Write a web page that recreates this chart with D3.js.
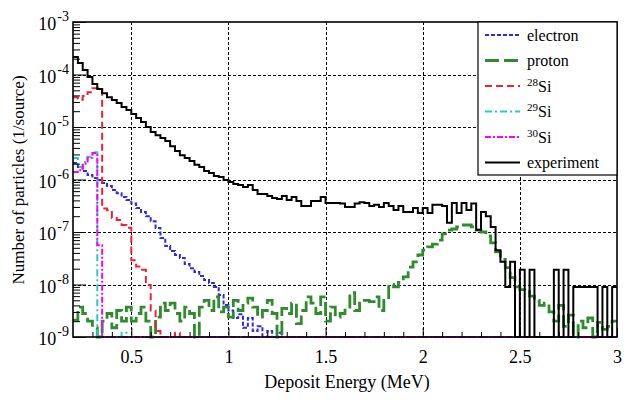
<!DOCTYPE html>
<html>
<head>
<meta charset="utf-8">
<script src="https://cdn.jsdelivr.net/npm/d3@7"></script>
<style>
body { margin: 0; background: #fff; }
svg { display: block; }
svg text { font-family: "Liberation Serif", "Times New Roman", Times, "DejaVu Serif", serif !important; fill: #000; }
</style>
</head>
<body>
<svg></svg>
<script>
// histogram binning (MeV)
var E_MIN = 0.2, E_MAX = 3.0, BIN_W = 0.025, nBins = 112;

// tick labels
var xTicks = [0.5, 1, 1.5, 2, 2.5, 3];
var xTickLabels = ["0.5", "1", "1.5", "2", "2.5", "3"];
var yTickExp = [-9, -8, -7, -6, -5, -4, -3];

// bin contents, 1/source (bins past the end of an array are empty)
var experiment = [
  2.15e-4, 1.66e-4, 1.22e-4, 9.0e-5, 6.6e-5, 5.3e-5, 4.4e-5, 3.7e-5, 3.27e-5, 2.86e-5,
  2.4e-5, 2.1e-5, 1.77e-5, 1.48e-5, 1.24e-5, 1.0e-5, 8.0e-6, 7.0e-6, 6.2e-6, 5.4e-6,
  4.3e-6, 3.5e-6, 2.9e-6, 2.57e-6, 2.25e-6, 1.9e-6, 1.73e-6, 1.45e-6, 1.33e-6, 1.17e-6,
  1.12e-6, 9.8e-7, 8.95e-7, 8.2e-7, 7.85e-7, 7.2e-7, 7.85e-7, 6.3e-7, 5.3e-7, 5.3e-7,
  4.85e-7, 4.45e-7, 4.25e-7, 4.85e-7, 4.07e-7, 4.65e-7, 3.9e-7, 3.13e-7, 3.13e-7, 3.9e-7,
  3.9e-7, 4.65e-7, 3.56e-7, 3.56e-7, 3.56e-7, 3.5e-7, 3.0e-7, 3.0e-7, 3.5e-7, 3.7e-7,
  3.56e-7, 3.13e-7, 3.3e-7, 3.0e-7, 3.56e-7, 3.13e-7, 2.63e-7, 3.13e-7, 2.4e-7, 2.4e-7,
  2.85e-7, 2.3e-7, 2.85e-7, 2.3e-7, 3.3e-7, 3.3e-7, 3.13e-7, 1.5e-7, 3.56e-7, 2.3e-7,
  3.56e-7, 2.63e-7, 3.5e-7, 1.1e-7, 2.4e-7, 2.0e-7, 1.25e-7, 4.5e-8, 2.7e-8, 9e-9,
  2.7e-8, 0, 1.9e-8, 0, 1.9e-8, 0, 0, 0, 0, 1.9e-8,
  0, 1.9e-8, 0, 9e-9, 9e-9, 9e-9, 9e-9, 9e-9, 0, 9e-9,
  0, 9e-9
];
var proton = [
  2.1e-9, 3.7e-9, 2.8e-9, 2.0e-9, 1.5e-9, 1.0e-9, 2.0e-9, 2.8e-9, 1.5e-9, 3.2e-9,
  2.0e-9, 3.7e-9, 2.0e-9, 2.8e-9, 3.7e-9, 2.0e-9, 1.0e-9, 2.4e-9, 4.4e-9, 3.2e-9,
  4.4e-9, 2.8e-9, 2.0e-9, 3.7e-9, 2.8e-9, 1.0e-9, 3.7e-9, 5.0e-9, 3.2e-9, 5.8e-9,
  3.0e-9, 3.7e-9, 2.4e-9, 5.0e-9, 3.2e-9, 4.4e-9, 5.5e-9, 3.7e-9, 2.4e-9, 3.2e-9,
  5.0e-9, 2.8e-9, 1.0e-9, 3.5e-9, 2.8e-9, 4.4e-9, 1.8e-9, 3.2e-9, 5.8e-9, 4.4e-9,
  2.8e-9, 5.8e-9, 2.0e-9, 3.7e-9, 2.4e-9, 2.8e-9, 3.7e-9, 7.0e-9, 3.2e-9, 4.4e-9,
  5.0e-9, 4.7e-9, 5.8e-9, 3.2e-9, 5.0e-9, 1.0e-8, 9.0e-9, 1.1e-8, 1.4e-8, 2.15e-8,
  2.7e-8, 3.65e-8, 4.5e-8, 5.2e-8, 5.9e-8, 7.0e-8, 9.2e-8, 1.09e-7, 1.14e-7, 1.25e-7,
  1.36e-7, 1.36e-7, 1.25e-7, 1.09e-7, 1.0e-7, 8.4e-8, 6.2e-8, 4.2e-8, 3.0e-8, 2.1e-8,
  1.35e-8, 9.0e-9, 8.0e-9, 7.3e-9, 6.0e-9, 5.0e-9, 4.0e-9, 4.4e-9, 3.0e-9, 2.0e-9,
  4.0e-9, 1.6e-9, 2.6e-9, 1.0e-9, 2.0e-9, 1.5e-9, 2.3e-9, 1.0e-9, 1.9e-9, 1.4e-9,
  1.6e-9, 2.0e-9
];
var electron = [
  2.06e-6, 1.73e-6, 1.45e-6, 1.22e-6, 1.07e-6, 9.8e-7, 8.6e-7, 7.5e-7, 6.3e-7, 5.5e-7,
  4.65e-7, 4.07e-7, 3.5e-7, 2.87e-7, 2.4e-7, 2.0e-7, 1.6e-7, 1.19e-7, 7.7e-8, 5.4e-8,
  4.35e-8, 3.65e-8, 3.2e-8, 2.45e-8, 2.05e-8, 1.73e-8, 1.45e-8, 1.22e-8, 1.07e-8, 9e-9,
  6.3e-9, 4.07e-9, 3.2e-9, 2.3e-9, 2.7e-9, 1.5e-9, 2.3e-9, 1.3e-9, 1.6e-9, 0,
  1.3e-9, 0, 1.2e-9
];
var si28 = [
  3.7e-5, 3.3e-5, 3.9e-5, 4.6e-5, 5.5e-5, 5.5e-5, 2.8e-7, 2.6e-7, 1.85e-7, 1.7e-7,
  1.36e-7, 1.2e-7, 2.9e-8, 2.2e-8, 1.9e-8, 9.8e-9, 3.2e-9, 1.3e-9, 0, 0,
  0, 1.2e-9
];
var si29 = [2.57e-6, 1.73e-6, 2.15e-6, 2.7e-6, 3.3e-6, 0, 0, 0, 0, 0, 1.2e-9];
var si30 = [1.39e-6, 1.5e-6, 2.0e-6, 2.6e-6, 3.2e-6, 5.6e-8];

var series = [
  { name: "electron", vals: electron, color: "#2a2aee", dash: "4,2", width: 2 },
  { name: "proton", vals: proton, color: "#2e8b2e", dash: "14,5", width: 2.8 },
  { name: "28", sup: true, vals: si28, color: "#ee2233", dash: "7,4", width: 2 },
  { name: "29", sup: true, vals: si29, color: "#22cccc", dash: "7,3,2,3", width: 2 },
  { name: "30", sup: true, vals: si30, color: "#ff00ff", dash: "6,2,2,2", width: 2 },
  { name: "experiment", vals: experiment, color: "#000", dash: null, width: 2 }
];

var FONT = "'Liberation Serif', 'Times New Roman', Times, 'DejaVu Serif', serif";

var svgWidth = 640, svgHeight = 408;
var svg = d3.select("svg").attr("width", svgWidth).attr("height", svgHeight)
  .attr("font-family", FONT);

var x = d3.scaleLinear().domain([E_MIN, E_MAX]).range([73, 617]);
var y = d3.scaleLog().domain([1e-9, 1e-3]).range([337, 22]);
var yBottom = y.range()[0];

svg.append("defs").append("clipPath").attr("id", "plot")
  .append("rect").attr("x", 73).attr("y", 20).attr("width", 544).attr("height", 319);

// grid
var grid = svg.append("g").attr("stroke", "#000").attr("stroke-width", 1).attr("stroke-dasharray", "3,2");
grid.selectAll(".gx").data(xTicks.filter(function (d) { return d < E_MAX; }))
  .enter().append("line")
  .attr("x1", function (d) { return Math.round(x(d)) + 0.5; })
  .attr("x2", function (d) { return Math.round(x(d)) + 0.5; })
  .attr("y1", 22).attr("y2", 337);
grid.selectAll(".gy").data(yTickExp.slice(1, -1))
  .enter().append("line")
  .attr("x1", 73).attr("x2", 617)
  .attr("y1", function (d) { return Math.round(y(Math.pow(10, d))) + 0.5; })
  .attr("y2", function (d) { return Math.round(y(Math.pow(10, d))) + 0.5; });

// histograms
var line = d3.line()
  .x(function (d) { return x(d[0]); })
  .y(function (d) { return d[1] > 0 ? y(d[1]) : yBottom; })
  .curve(d3.curveStepAfter);

function binPoints(vals) {
  var pts = [];
  for (var i = 0; i < nBins; i++) {
    pts.push([E_MIN + i * BIN_W, i < vals.length ? vals[i] : 0]);
  }
  pts.push([E_MAX, pts[nBins - 1][1]]);
  return pts;
}

var hists = svg.append("g").attr("clip-path", "url(#plot)");
hists.selectAll("path").data(series).enter().append("path")
  .attr("d", function (d) { return line(binPoints(d.vals)); })
  .attr("fill", "none")
  .attr("stroke", function (d) { return d.color; })
  .attr("stroke-width", function (d) { return d.width; })
  .attr("stroke-dasharray", function (d) { return d.dash; })
  .attr("stroke-linejoin", "miter");

// axes (ticks inside the frame)
var minorX = [];
for (var t = 3; t < 30; t++) { if (t % 5 !== 0) minorX.push(t / 10); }
svg.append("g").attr("transform", "translate(0,337)")
  .call(d3.axisBottom(x).tickValues(minorX).tickSize(-5).tickFormat(""))
  .call(function (g) { g.select(".domain").remove(); });
svg.append("g").attr("transform", "translate(0,337)")
  .call(d3.axisBottom(x).tickValues(xTicks).tickSize(-9).tickPadding(13)
    .tickFormat(function (d, i) { return xTickLabels[i]; }))
  .call(function (g) {
    g.attr("font-family", FONT).attr("font-size", 18);
    g.select(".domain").remove();
    g.selectAll("text").attr("fill", "#000");
  });

var minorY = [];
yTickExp.slice(0, -1).forEach(function (e) {
  for (var m = 2; m <= 9; m++) minorY.push(m * Math.pow(10, e));
});
svg.append("g").attr("transform", "translate(73,0)")
  .call(d3.axisLeft(y).tickValues(minorY).tickSize(-7).tickFormat(""))
  .call(function (g) { g.select(".domain").remove(); });
svg.append("g").attr("transform", "translate(73,0)")
  .call(d3.axisLeft(y).tickValues(yTickExp.map(function (e) { return Math.pow(10, e); })).tickSize(-13).tickFormat(""))
  .call(function (g) { g.select(".domain").remove(); });

var yLab = svg.append("g").selectAll("text").data(yTickExp).enter().append("text")
  .attr("x", 69)
  .attr("y", function (d) { return y(Math.pow(10, d)) + 8; })
  .attr("text-anchor", "end")
  .attr("font-size", 18);
yLab.append("tspan").text("10");
yLab.append("tspan").attr("dy", -9).attr("dx", 1).attr("font-size", 14)
  .text(function (d) { return "-" + Math.abs(d); });

// frame
svg.append("rect").attr("x", 73).attr("y", 22).attr("width", 544).attr("height", 315)
  .attr("fill", "none").attr("stroke", "#000").attr("stroke-width", 1.6);

// axis titles
svg.append("text").attr("x", 347).attr("y", 388).attr("text-anchor", "middle")
  .attr("font-size", 18).text("Deposit Energy (MeV)");
svg.append("text").attr("transform", "translate(24,180) rotate(-90)")
  .attr("text-anchor", "middle").attr("font-size", 17)
  .text("Number of particles (1/source)");

// legend
var legend = svg.append("g");
legend.append("rect").attr("x", 478).attr("y", 22).attr("width", 139).attr("height", 153)
  .attr("fill", "#fff").attr("stroke", "#000").attr("stroke-width", 1.2);
var rowY = [35, 60.5, 86, 111.5, 137, 162.5];
var entry = legend.selectAll(".entry").data(series).enter().append("g")
  .attr("transform", function (d, i) { return "translate(0," + rowY[i] + ")"; });
entry.append("line").attr("x1", 485).attr("x2", 520).attr("y1", 0).attr("y2", 0)
  .attr("stroke", function (d) { return d.color; })
  .attr("stroke-width", function (d) { return d.width; })
  .attr("stroke-dasharray", function (d) { return d.dash; });
var lt = entry.append("text").attr("x", 527).attr("y", 5.5).attr("font-size", 16);
lt.each(function (d) {
  var s = d3.select(this);
  if (d.sup) {
    s.append("tspan").attr("font-size", 11).attr("dy", -6).text(d.name);
    s.append("tspan").attr("dy", 6).text("Si");
  } else {
    s.text(d.name);
  }
});
</script>
</body>
</html>
